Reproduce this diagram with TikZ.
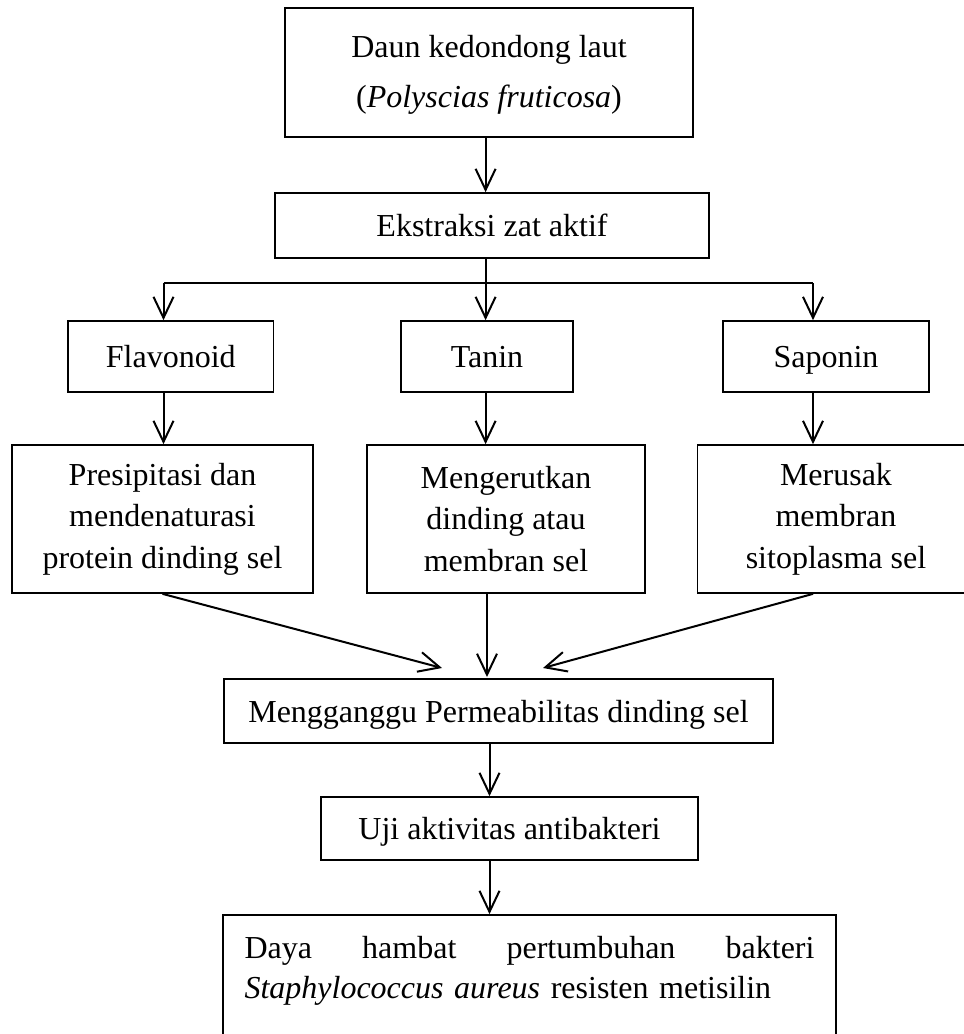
\documentclass[tikz,border=0pt]{standalone}
\usepackage{fontspec}
\setmainfont{Liberation Serif}
\usetikzlibrary{arrows.meta}
\begin{document}
\begin{tikzpicture}[x=0.5pt,y=-0.5pt,
  box/.style={draw, line width=0.85pt, inner sep=0pt, align=center,
    font=\fontsize{16pt}{20.75pt}\selectfont},
  oneline/.style={text height=11pt, text depth=0pt},
  arr/.style={-{Straight Barb[length=10.5pt,width=10pt]}, line width=1pt},
  link/.style={line width=1pt}]
\useasboundingbox (0,0) rectangle (964,1034);
\fill[white] (0,0) rectangle (964,1034);
\clip (0,0) rectangle (964,1034);

\node[box, minimum width=204pt, minimum height=64.5pt,
  font=\fontsize{16pt}{25pt}\selectfont] (daun) at (489,72.5)
  {\rule{0pt}{13.5pt}Daun kedondong laut\\(\textit{Polyscias fruticosa})};
\node[box, oneline, minimum width=217pt, minimum height=32.5pt] (eks) at (492,225.5) {Ekstraksi zat aktif};
\node[box, oneline, minimum width=102.75pt, minimum height=35.5pt] (flav) at (170.75,356.5) {Flavonoid};
\node[box, oneline, minimum width=86pt, minimum height=35.5pt] (tanin) at (487,356.5) {Tanin};
\node[box, oneline, minimum width=103pt, minimum height=35.5pt] (sap) at (826,356.5) {Saponin};
\node[box, minimum width=150.5pt, minimum height=74pt] (pres) at (162.5,519)
  {Presipitasi dan\\mendenaturasi\\protein dinding sel};
\node[box, minimum width=138.75pt, minimum height=74pt] (meng) at (506,519)
  {Mengerutkan\\dinding atau\\membran sel};
\node[box, minimum width=138.4pt, minimum height=74pt] (mer) at (836,519)
  {Merusak\\membran\\sitoplasma sel};
\node[box, oneline, minimum width=274.5pt, minimum height=32pt] (perm) at (498.5,711)
  {Mengganggu Permeabilitas dinding sel};
\node[box, oneline, minimum width=188.5pt, minimum height=31.5pt] (uji) at (509.5,828.5)
  {Uji aktivitas antibakteri};
\node[box, minimum width=306.5pt, minimum height=73pt, text width=285pt, align=left,
  font=\fontsize{16pt}{20pt}\selectfont] (daya) at (529.5,988)
  {\rule{0pt}{16pt}\makebox[285pt]{Daya\hfill hambat\hfill pertumbuhan\hfill bakteri}\\
   \textit{Staphylococcus aureus} resisten metisilin\\ \strut};

\coordinate (cL) at (163.5,283);
\coordinate (cM) at (485.6,283);
\coordinate (cR) at (813,283);
\coordinate (cB) at (489.5,770);
\coordinate (p1) at (442,668);
\coordinate (p2) at (487,677);
\coordinate (p3) at (543,668);

\draw[arr] (daun.south -| cM) -- (eks.north -| cM);
\draw[link] (cL) -- (cR);
\draw[arr] (eks.south -| cM) -- (tanin.north -| cM);
\draw[arr] (cL) -- (flav.north -| cL);
\draw[arr] (cR) -- (sap.north -| cR);
\draw[arr] (flav.south -| cL) -- (pres.north -| cL);
\draw[arr] (tanin.south -| cM) -- (meng.north -| cM);
\draw[arr] (sap.south -| cR) -- (mer.north -| cR);
\draw[arr] (pres.south) -- (p1);
\draw[arr] (meng.south -| p2) -- (p2);
\draw[arr] (mer.south -| cR) -- (p3);
\draw[arr] (perm.south -| cB) -- (uji.north -| cB);
\draw[arr] (uji.south -| cB) -- (daya.north -| cB);
\end{tikzpicture}
\end{document}
